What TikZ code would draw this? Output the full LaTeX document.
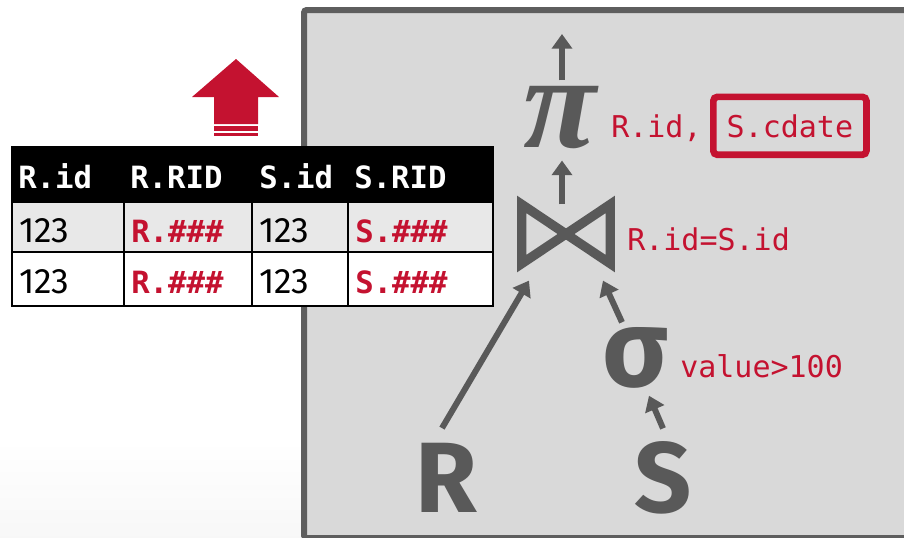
\documentclass[tikz,border=0pt]{standalone}
\usepackage{fontspec}
\setmainfont{Fira Sans}
\setmonofont{DejaVu Sans Mono}
\newfontfamily\pifont{Liberation Serif}
\usetikzlibrary{arrows.meta}
\definecolor{cmured}{HTML}{C41230}
\definecolor{opgray}{HTML}{595959}
\definecolor{boxfill}{HTML}{D9D9D9}
\definecolor{boxline}{HTML}{5E5E5E}
\definecolor{rowgray}{HTML}{E8E8E8}
\begin{document}
\begin{tikzpicture}[x = 0.75pt, y = -0.75pt,
  arr/.style = {draw = opgray, line width = 4.5pt, -{Triangle[width=15pt, length=11pt]}},
  op/.style = {inner sep = 0, text = opgray},
  lab/.style = {inner sep = 0, anchor = base west, text = cmured, font = \ttfamily\fontsize{22.5}{27}\selectfont},
  hd/.style = {inner sep = 0, anchor = base west, text = white, font = \ttfamily\bfseries\fontsize{23}{27}\selectfont},
  num/.style = {inner sep = 0, anchor = base west, font = \fontsize{26.5}{30}\selectfont},
  rid/.style = {inner sep = 0, anchor = base west, text = cmured, font = \ttfamily\bfseries\fontsize{23}{27}\selectfont}]
\useasboundingbox (0,0) rectangle (904,537);
\clip (0,0) rectangle (904,537);
\shade[top color = white, bottom color = black!3] (0,440) rectangle (301,537);
% query plan
\draw[draw = boxline, fill = boxfill, line width = 4.5pt, rounded corners = 2pt] (304,10) rectangle (930,538);
% output arrow
\fill[cmured] (214,124) -- (214,97) -- (192,97) -- (236,59) -- (279,97) -- (258,97) -- (258,124) -- cycle;
\fill[cmured] (214,126) rectangle (258,131);
\fill[cmured] (214,133) rectangle (258,136);
% result table
\fill[black] (12,147) rectangle (493,202);
\fill[rowgray] (12,202) rectangle (493,252);
\fill[white] (12,252) rectangle (493,306);
\draw[line width = 1.6pt] (12,147) rectangle (493,306);
\draw[line width = 1.6pt] (12,202) -- (493,202);
\draw[line width = 1.6pt] (12,252) -- (493,252);
\foreach \x in {124,252,348}
  \draw[line width = 1.6pt] (\x,147) -- (\x,306);
\node[hd] (h1) at (18,188) {R.id};
\node[hd] (h2) at (130,188) {R.RID};
\node[hd] (h3) at (259,188) {S.id};
\node[hd] (h4) at (354,188) {S.RID};
\node[num] (a1) at (19,242) {123};
\node[rid] (a2) at (131,242) {R.\#\#\#};
\node[num] (a3) at (259,242) {123};
\node[rid] (a4) at (355,242) {S.\#\#\#};
\node[num] (b1) at (19,293) {123};
\node[rid] (b2) at (131,293) {R.\#\#\#};
\node[num] (b3) at (259,293) {123};
\node[rid] (b4) at (355,293) {S.\#\#\#};
% operators
\node[op, font = \pifont\bfseries\itshape\fontsize{100}{110}\selectfont] (proj) at (560,118) {π};
\node[op, minimum width = 66pt, minimum height = 44pt] (join) at (566,234) {};
\draw[draw = opgray, line width = 7pt] (join.north west) -- (join.south east) -- (join.north east) -- (join.south west) -- cycle;
\node[op, font = \bfseries\fontsize{82}{90}\selectfont] (sel) at (635,358) {σ};
\node[op, inner sep = 3pt, font = \bfseries\fontsize{75}{90}\selectfont] (R) at (446,478) {R};
\node[op, inner sep = 3pt, font = \bfseries\fontsize{75}{90}\selectfont] (S) at (663,478) {S};
% labels
\node[lab] (plab) at (611,137) {R.id,};
\node[lab, draw = cmured, line width = 5pt, rounded corners = 3pt, inner xsep = 10pt, inner ysep = 13pt] (cdate) at (710,137) {S.cdate};
\node[lab] (jlab) at (627,250) {R.id=S.id};
\node[lab] (slab) at (680,377) {value>100};
% edges
\coordinate (out) at (562,34);
\draw[arr] ([shift = {(2,-6)}]proj.north) -- (out);
\draw[arr] ([shift = {(-4,0)}]join.north) -- ([shift = {(2,11)}]proj.south);
\draw[arr] ([shift = {(-4,-11)}]R.north) -- ([shift = {(-37,17)}]join.south);
\draw[arr] ([shift = {(-13,-5)}]sel.north) -- ([shift = {(37,17)}]join.south);
\draw[arr] ([shift = {(0,-9)}]S.north) -- ([shift = {(14,7)}]sel.south);
\end{tikzpicture}
\end{document}
